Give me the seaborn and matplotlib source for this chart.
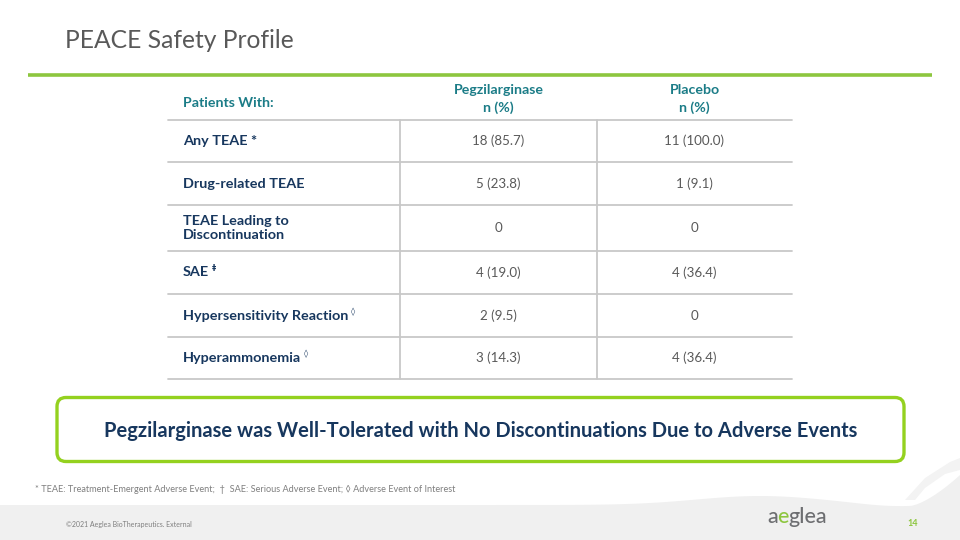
import matplotlib
matplotlib.use("Agg")
import matplotlib.pyplot as plt
import seaborn as sns
from matplotlib.patches import FancyBboxPatch, Polygon
import numpy as np

# ---- data ----
title = "PEACE Safety Profile"
col_headers = ["Patients With:", "Pegzilarginase\nn (%)", "Placebo\nn (%)"]
categories = ["Any TEAE *", "Drug-related TEAE", "TEAE Leading to\nDiscontinuation",
              "SAE", "Hypersensitivity Reaction", "Hyperammonemia"]
category_marks = ["", "", "", "\u2021", "\u25CA", "\u25CA"]
pegzilarginase = ["18 (85.7)", "5 (23.8)", "0", "4 (19.0)", "2 (9.5)", "3 (14.3)"]
placebo = ["11 (100.0)", "1 (9.1)", "0", "4 (36.4)", "0", "4 (36.4)"]
callout = "Pegzilarginase was Well-Tolerated with No Discontinuations Due to Adverse Events"
footnote = "* TEAE: Treatment-Emergent Adverse Event;  \u2020  SAE: Serious Adverse Event; \u25CA Adverse Event of Interest"
copyright_txt = "\u00A92021 Aeglea BioTherapeutics. External"
page_no = "14"

# ---- style ----
sns.set_theme(style="white")
plt.rcParams['font.family'] = ['Lato', 'DejaVu Sans']

GREEN = "#8DC63F"
TEAL = "#1B7C87"
NAVY = "#17375E"
GRAY = "#595959"
LINE = "#C8C8C8"

fig = plt.figure(figsize=(9.6, 5.4), dpi=100)
ax = fig.add_axes([0, 0, 1, 1])
ax.set_xlim(0, 960)
ax.set_ylim(540, 0)
ax.axis("off")

# title & rule
ax.text(65, 40, title, fontsize=17.7, color=GRAY, va="center", ha="left")
ax.plot([28, 932], [74.5, 74.5], color=GREEN, lw=2.6, solid_capstyle="butt")

# table geometry
col_edges = [168, 400, 597, 792]
top = 120
row_h = [42, 43, 46, 43, 43, 42]
bounds = np.concatenate([[top], top + np.cumsum(row_h)])

# header
ax.text(183, 103, col_headers[0], fontsize=10.2, color=TEAL, fontweight="bold", va="center", ha="left")
for j, h in enumerate(col_headers[1:], start=1):
    cx = (col_edges[j] + col_edges[j + 1]) / 2
    ax.text(cx, 99, h, fontsize=10.2, color=TEAL, fontweight="bold", va="center", ha="center",
            linespacing=1.5)

# horizontal lines
for b in bounds:
    ax.plot([col_edges[0], col_edges[-1]], [b, b], color=LINE, lw=1.3)
# vertical lines
for x in col_edges[1:-1]:
    ax.plot([x, x], [bounds[0], bounds[-1]], color=LINE, lw=1.3)

label_texts = []
for i, (cat, p, q) in enumerate(zip(categories, pegzilarginase, placebo)):
    cy = (bounds[i] + bounds[i + 1]) / 2
    t = ax.text(183, cy, cat, fontsize=10.4, color=NAVY, fontweight="bold", va="center", ha="left",
                linespacing=1.25)
    label_texts.append(t)
    for j, v in enumerate([p, q], start=1):
        cx = (col_edges[j] + col_edges[j + 1]) / 2
        ax.text(cx, cy, v, fontsize=9.6, color=GRAY, va="center", ha="center")

# superscript marks after labels
fig.canvas.draw()
renderer = fig.canvas.get_renderer()
for i, (t, m) in enumerate(zip(label_texts, category_marks)):
    if not m:
        continue
    bb = t.get_window_extent(renderer)
    x_right = bb.x1 + 3
    cy = (bounds[i] + bounds[i + 1]) / 2
    ax.text(x_right, cy - 4, m, fontsize=6, color=NAVY, fontweight="bold", va="center", ha="left",
            family="DejaVu Sans")

# callout box
box = FancyBboxPatch((57, 397.5), 847, 64, boxstyle="round,pad=0,rounding_size=9",
                     fc="white", ec="#94D11F", lw=2.4)
ax.add_patch(box)
ax.text(481, 431, callout, fontsize=14.5, color=NAVY, fontweight="bold", va="center", ha="center")

# footnote
ax.text(35, 490, footnote, fontsize=6.6, color="#7F7F7F", va="center", ha="left")

# footer band with wave
xs = np.linspace(0, 960, 200)
ytop = 505 - 9 * np.exp(-((xs - 760) / 90) ** 2) + 2 * np.exp(-((xs - 890) / 40) ** 2)
ytop = ytop - 30 * np.clip((xs - 910) / 50, 0, 1) ** 1.5
band = Polygon(np.column_stack([np.concatenate([xs, [960, 0]]),
                                np.concatenate([ytop, [540, 540]])]),
               closed=True, fc="#F0F0F0", ec="none", zorder=0)
ax.add_patch(band)
sw = Polygon([[905, 500], [925, 478], [950, 462], [960, 458], [960, 470], [945, 474], [925, 488], [915, 500]],
             closed=True, fc="#F3F3F3", ec="none", zorder=0)
ax.add_patch(sw)

ax.text(66, 524, copyright_txt, fontsize=5, color="#7F7F7F", va="center", ha="left")
ax.text(907, 524, page_no, fontsize=6.5, color=GREEN, fontweight="bold", va="center", ha="left")

# logo
inv = ax.transData.inverted()
lx = 767
t1 = ax.text(lx, 517, "a", fontsize=15.5, color="#6D6E71", va="center", ha="left", fontweight="medium")
fig.canvas.draw()
x1 = inv.transform((t1.get_window_extent(renderer).x1, 0))[0]
t2 = ax.text(x1 - 1, 517, "e", fontsize=15.5, color=GREEN, va="center", ha="left", fontweight="medium")
fig.canvas.draw()
x2 = inv.transform((t2.get_window_extent(renderer).x1, 0))[0]
ax.text(x2, 517, "glea", fontsize=15.5, color="#6D6E71", va="center", ha="left", fontweight="medium")

fig.savefig("out.png", dpi=100)
